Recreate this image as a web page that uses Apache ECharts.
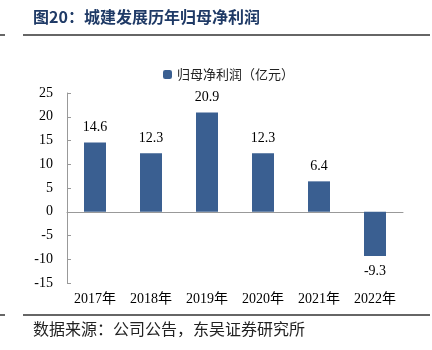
<!DOCTYPE html>
<html>
<head>
<meta charset="utf-8">
<script src="https://cdn.jsdelivr.net/npm/echarts@6/dist/echarts.min.js"></script>
<style>
html, body { margin: 0; padding: 0; background: #fff; }
#main { width: 432px; height: 350px; }
</style>
</head>
<body>
<div id="main"></div>
<script>
var years = ['2017年', '2018年', '2019年', '2020年', '2021年', '2022年'];
var profit = [14.6, 12.3, 20.9, 12.3, 6.4, -9.3];
var seriesName = '归母净利润（亿元）';
var titleText = '图20：城建发展历年归母净利润';
var sourceText = '数据来源：公司公告，东吴证券研究所';

var serif = '"Liberation Serif", "Noto Sans CJK SC", serif';
var chart = echarts.init(document.getElementById('main'));

var option = {
    animation: false,
    grid: { left: 67, right: 29, top: 93, bottom: 67 },
    legend: {
        data: [seriesName],
        top: 63,
        left: 158,
        itemWidth: 9,
        itemHeight: 9,
        itemGap: 4,
        textStyle: { fontSize: 13, color: '#222', fontFamily: '"Noto Sans CJK SC", sans-serif' }
    },
    xAxis: {
        type: 'category',
        data: years,
        axisLine: { onZero: true, lineStyle: { color: '#999' } },
        axisTick: { inside: true, length: 4, lineStyle: { color: '#999' } },
        axisLabel: { interval: 0, color: '#000', fontSize: 14, fontFamily: serif, margin: 9 }
    },
    yAxis: {
        type: 'value',
        min: -15,
        max: 25,
        interval: 5,
        axisLine: { show: true, lineStyle: { color: '#999' } },
        axisTick: { show: true, inside: true, length: 4, lineStyle: { color: '#999' } },
        splitLine: { show: false },
        axisLabel: { color: '#000', fontSize: 14, fontFamily: serif, margin: 14 }
    },
    series: [{
        name: seriesName,
        type: 'bar',
        // negative bars get their label below
        data: profit.map(function (v) {
            return { value: v, label: { position: v < 0 ? 'bottom' : 'top' } };
        }),
        barWidth: 22,
        itemStyle: { color: '#3A5F91' },
        label: { show: true, distance: 8, color: '#000', fontSize: 14, fontFamily: serif }
    }],
    graphic: [
        { type: 'text', left: 33, top: 9, style: { text: titleText, fill: '#1F3A66', font: 'bold 16px "Noto Sans CJK SC", sans-serif' } },
        { type: 'line', shape: { x1: 0, y1: 35, x2: 5, y2: 35 }, style: { stroke: '#333', lineWidth: 1.5 } },
        { type: 'line', shape: { x1: 23, y1: 35, x2: 430, y2: 35 }, style: { stroke: '#333', lineWidth: 1.5 } },
        { type: 'line', shape: { x1: 0, y1: 315, x2: 5, y2: 315 }, style: { stroke: '#333', lineWidth: 1.5 } },
        { type: 'line', shape: { x1: 23, y1: 315, x2: 430, y2: 315 }, style: { stroke: '#333', lineWidth: 1.5 } },
        { type: 'text', left: 33, top: 321, style: { text: sourceText, fill: '#222', font: '16px "Noto Sans CJK SC", sans-serif' } }
    ]
};

chart.setOption(option);
</script>
</body>
</html>
